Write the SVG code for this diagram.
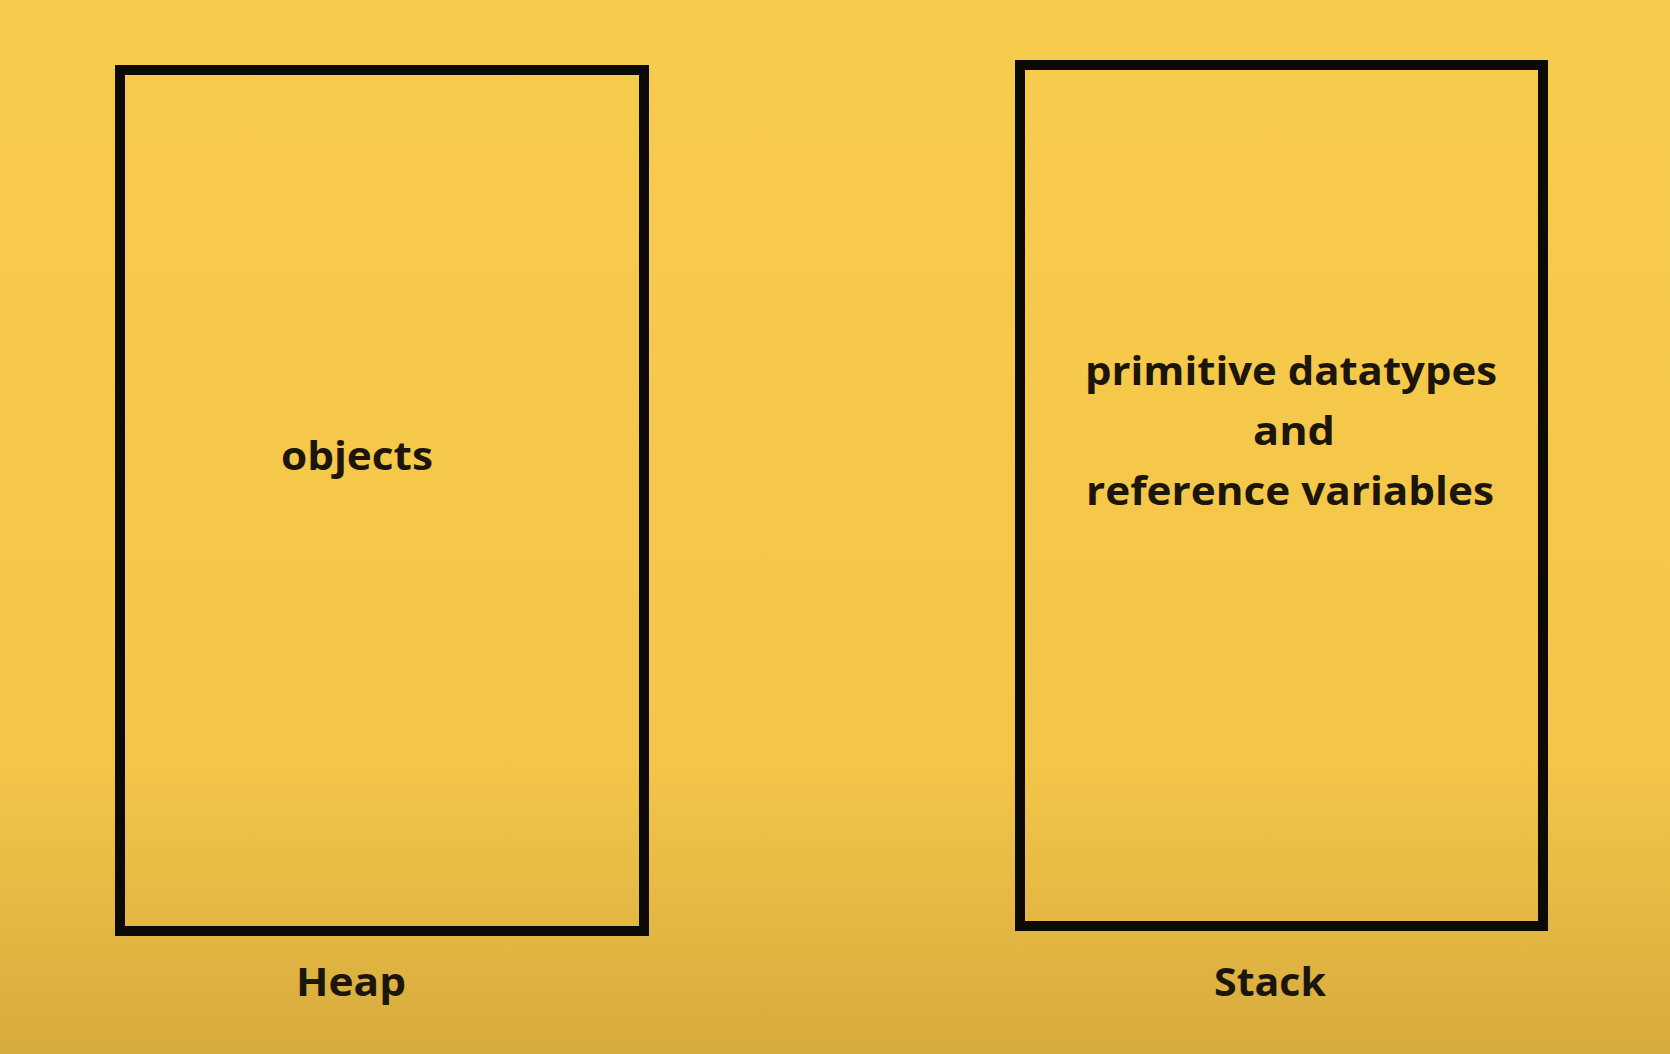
<svg xmlns="http://www.w3.org/2000/svg" width="1670" height="1054" viewBox="0 0 1670 1054">
<defs>
<linearGradient id="bg" x1="0" y1="0" x2="0" y2="1">
<stop offset="0" stop-color="#F7CB4C"/>
<stop offset="0.72" stop-color="#F3C649"/>
<stop offset="1" stop-color="#D6AB3D"/>
</linearGradient>
<style>
.box{fill:none;stroke:#0d0a05;stroke-width:10}
.t{font-family:"Open Sans","Liberation Sans",sans-serif;font-weight:bold;font-size:39px;fill:#1c1608;text-anchor:middle}
</style>
</defs>
<rect x="0" y="0" width="1670" height="1054" fill="url(#bg)"/>
<g id="heap">
<rect class="box" x="120" y="70" width="524" height="861"/>
<text class="t" x="357" y="470" textLength="152" lengthAdjust="spacingAndGlyphs">objects</text>
<text class="t" x="351" y="996" textLength="110" lengthAdjust="spacingAndGlyphs">Heap</text>
</g>
<g id="stack">
<rect class="box" x="1020" y="65" width="523" height="861"/>
<text class="t" x="1291" y="385" textLength="412" lengthAdjust="spacingAndGlyphs">primitive datatypes</text>
<text class="t" x="1294" y="445" textLength="82" lengthAdjust="spacingAndGlyphs">and</text>
<text class="t" x="1290" y="505" textLength="408" lengthAdjust="spacingAndGlyphs">reference variables</text>
<text class="t" x="1270" y="996" textLength="112" lengthAdjust="spacingAndGlyphs">Stack</text>
</g>
<g id="connectors"/>
</svg>
